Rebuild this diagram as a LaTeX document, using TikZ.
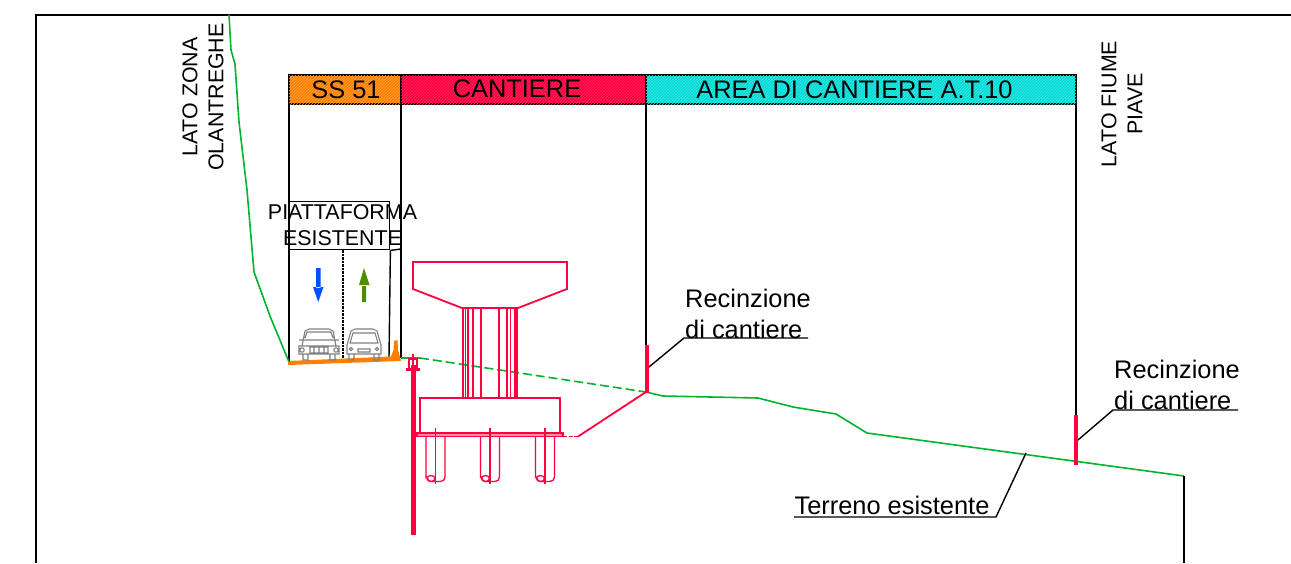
\documentclass[tikz,border=0pt]{standalone}
\usepackage{fontspec}
\setmainfont{Liberation Sans}
\usetikzlibrary{patterns}
\definecolor{ssorange}{RGB}{255,128,0}
\definecolor{pierred}{RGB}{255,0,64}
\definecolor{areacyan}{RGB}{0,220,216}
\definecolor{soilgreen}{RGB}{0,180,50}
\definecolor{arrowblue}{RGB}{0,80,255}
\definecolor{arrowgreen}{RGB}{80,140,0}
\begin{document}
\begin{tikzpicture}
  [x=1pt,y=-1pt,line width=1.4pt,
   every node/.style={font=\fontsize{25.4}{30.5}\selectfont,inner sep=0pt},
   small/.style={font=\fontsize{21.4}{26}\selectfont,align=center},
   hdrbox/.style={draw=black,line width=1.5pt,minimum height=29pt,anchor=west,outer sep=0pt},
   pier/.style={draw=pierred,line width=1.8pt},
   soil/.style={draw=soilgreen,line width=1.6pt},
   fence/.style={draw=pierred,line width=4.5pt},
   car/.style={draw=black!50,line width=1.1pt},
   tagtext/.style={align=left,anchor=north west}]
  \useasboundingbox (0,0) rectangle (1291,563);
  \fill[white] (0,0) rectangle (1291,563);

  % frame
  \coordinate (fa) at (36,563);
  \coordinate (fb) at (36,15);
  \coordinate (fc) at (1291,15);
  \draw (fa) -- (fb) -- (fc);

  % header strip
  \node[hdrbox,minimum width=112pt,fill=ssorange,postaction={pattern=north east lines,pattern color=ssorange!75!white}] (ss) at (289,89.5) {};
  \node[hdrbox,minimum width=245pt,fill=pierred,postaction={pattern=north east lines,pattern color=pierred!85!white}] (cant) at (401,89.5) {};
  \node[hdrbox,minimum width=430pt,fill=areacyan,postaction={pattern=north east lines,pattern color=areacyan!75!white}] (area) at (646,89.5) {};
  \node (sstext) at (346,89.5) {SS 51};
  \node (canttext) at (517,89) {CANTIERE};
  \node (areatext) at (854.5,89.5) {AREA DI CANTIERE A.T.10};

  % side labels
  \node[small,rotate=90] (olan) at (203,97) {LATO ZONA\\OLANTREGHE};
  \node[small,rotate=90] (piave) at (1122,104) {LATO FIUME\\PIAVE};

  % road platform
  \coordinate (r1) at (289,362);
  \coordinate (r2) at (401,358);
  \coordinate (r3) at (646,345);
  \coordinate (r4) at (1076,415);
  \draw (ss.south west) -- (r1);
  \draw (ss.south east) -- (r2);
  \draw (cant.south east) -- (r3);
  \draw (area.south east) -- (r4);
  \node[draw=black,minimum width=100pt,minimum height=48pt,anchor=north west] (plat) at (289,201) {};
  \node[small,align=center] (plattext) at (342.5,225.5) {PIATTAFORMA\\ESISTENTE};
  \coordinate (r5) at (389,358);
  \coordinate (r6) at (343,360);
  \coordinate (r7) at (343,250);
  \coordinate (r8) at (401,249);
  \draw (plat.south east) -- (r5);
  \draw (plat.south east) -- (r8);
  \draw[dash pattern=on 2.5pt off 1pt,line width=1.3pt] (r7) -- (r6);
  \fill[ssorange] (288,361) -- (391,356.5) -- (393.5,350) -- (394,341) -- (397.5,340) -- (398,350) -- (401,361) -- (288,365) -- cycle;
  \fill[arrowblue] (316,268) rectangle (320.5,288) (313,287) -- (323.5,287) -- (318.2,302) -- cycle;
  \fill[arrowgreen] (362,286) rectangle (366,302) (359,285) -- (369.5,285) -- (364,268) -- cycle;

  % cars
  \foreach \cx in {319}
    \draw[car] (\cx-17,346) -- (\cx-14,331) -- (\cx-10,329) -- (\cx+10,329) -- (\cx+14,331) -- (\cx+17,346)
      (\cx-20,340) -- (\cx+20,340) (\cx-20,346) rectangle (\cx+20,354)
      (\cx-14,338) -- (\cx-12,332) -- (\cx+12,332) -- (\cx+14,338)
      (\cx-9,347) rectangle (\cx+9,353) (\cx-17,350) circle (2.2) (\cx+17,350) circle (2.2)
      (\cx-5,347) -- (\cx-5,353) (\cx,347) -- (\cx,353) (\cx+5,347) -- (\cx+5,353)
      (\cx-16,354) rectangle (\cx-11,360) (\cx+11,354) rectangle (\cx+16,360);
  \foreach \cx in {364}
    \draw[car] (\cx-17,345) -- (\cx-13,331) -- (\cx-9,329) -- (\cx+9,329) -- (\cx+13,331) -- (\cx+17,345)
      (\cx-17,345) -- (\cx-17,354) -- (\cx+17,354) -- (\cx+17,345)
      (\cx-14,343) -- (\cx-11,333) -- (\cx+11,333) -- (\cx+14,343) -- cycle
      (\cx-6,349) rectangle (\cx+6,352) (\cx-13,349) circle (1.6) (\cx+13,349) circle (1.6)
      (\cx-15,354) rectangle (\cx-10,360) (\cx+10,354) rectangle (\cx+15,360);

  % terrain
  \coordinate (t0) at (229,15);
  \coordinate (t1) at (420,358);
  \coordinate (t2) at (646,392);
  \coordinate (t3) at (1184,476);
  \coordinate (t4) at (1184,563);
  \draw[soil] (t0) -- (231,50) -- (235,64) -- (239,122) -- (247,190) -- (254,272) -- (270,316) -- (289,362);
  \draw[soil] (401,358) -- (t1);
  \draw[soil,dash pattern=on 9pt off 4pt] (t1) -- (t2);
  \draw[soil] (t2) -- (663,396) -- (758,398) -- (793,407) -- (836,414) -- (867,433) -- (t3);
  \draw (t3) -- (t4);

  % pier
  \draw[pier] (413,262) -- (567,262) -- (567,289) -- (518,308) -- (462,308) -- (413,289) -- cycle;
  \foreach \px in {463,465.5,468,473,481,499,507,510.5,515,517}
    \draw[pier,line width=1.4pt] (\px,308) -- (\px,398);
  \draw[pier] (420,398) rectangle (560,433);
  \draw[pier,fill=pierred!45] (417,433) rectangle (563,436.5);
  \foreach \px in {435.5,490,545} {
    \draw[pier,line width=1.3pt] (\px,428) -- (\px,484);
    \draw[pier,line width=1.3pt] (\px-9.5,437) -- (\px-9.5,477) to[out=90,in=180] (\px-5,481.5) -- (\px+5,481.5) to[out=0,in=-90] (\px+9.5,477) -- (\px+9.5,437);
    \draw[pier,line width=1.3pt] (\px-4.5,478.5) ellipse (4 and 3);
  }
  \coordinate (d1) at (563,436.5);
  \coordinate (d2) at (578,436.5);
  \coordinate (d3) at (646,392);
  \draw[pier,dash pattern=on 4pt off 1.5pt] (d1) -- (d2);
  \draw[pier] (d2) -- (d3);

  % sheet pile
  \coordinate (p1) at (413,365);
  \coordinate (p2) at (413,535);
  \coordinate (p3) at (413,354);
  \draw[draw=pierred,line width=5pt] (p1) -- (p2);
  \draw[pier] (p3) -- (p1) (409,359) rectangle (417,369);
  \draw[draw=pierred,line width=3pt] (406,369) -- (420,369);

  % fences
  \coordinate (f1) at (647,345);
  \coordinate (f2) at (647,393);
  \coordinate (f3) at (1076,415);
  \coordinate (f4) at (1076,465);
  \draw[fence] (f1) -- (f2);
  \draw[fence] (f3) -- (f4);

  % tags
  \node[tagtext] (rec1) at (684.5,288.5) {Recinzione\\di cantiere};
  \coordinate (u1) at (684,338);
  \coordinate (u2) at (808,338);
  \coordinate (u3) at (649,367);
  \draw (u2) -- (u1) -- (u3);
  \node[tagtext] (rec2) at (1113.5,359.5) {Recinzione\\di cantiere};
  \coordinate (v1) at (1113,410);
  \coordinate (v2) at (1238,410);
  \coordinate (v3) at (1078,440);
  \draw (v2) -- (v1) -- (v3);
  \node (terr) at (892,505) {Terreno esistente};
  \coordinate (w1) at (794,517);
  \coordinate (w2) at (996,517);
  \coordinate (w3) at (1026,453);
  \draw (w1) -- (w2) -- (w3);
\end{tikzpicture}
\end{document}
